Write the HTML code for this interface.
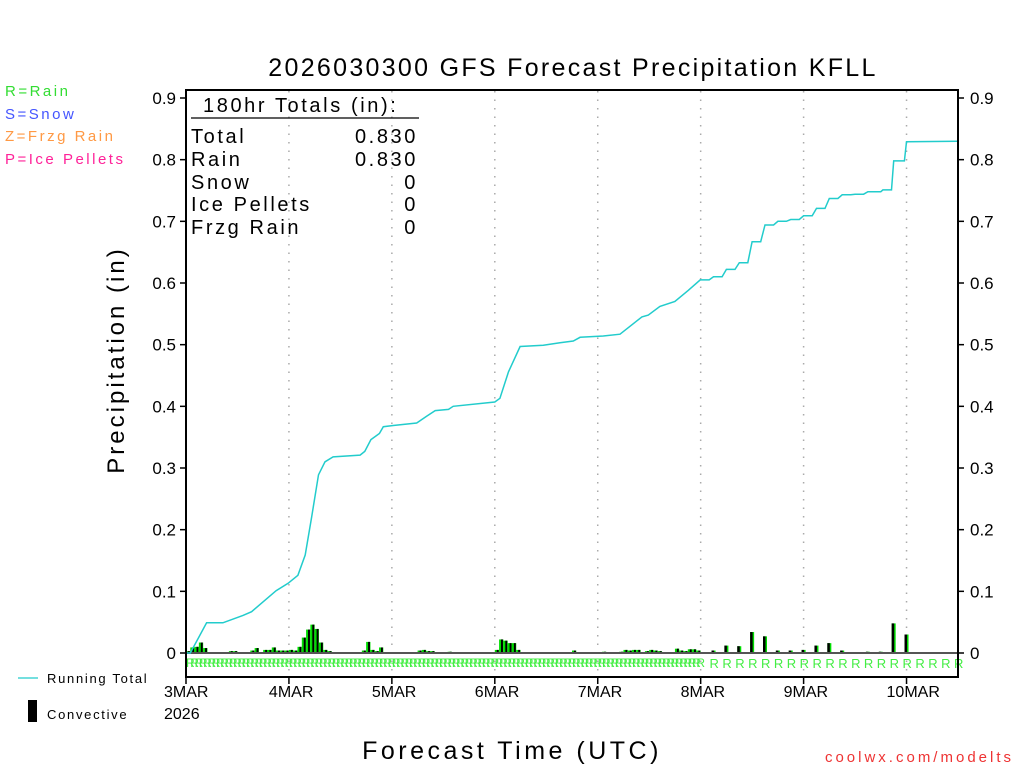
<!DOCTYPE html>
<html><head><meta charset="utf-8"><style>
body{margin:0;background:#fff;}
svg{display:block;font-family:"Liberation Sans",sans-serif;}
</style></head><body>
<svg id="chart" width="1024" height="768" viewBox="0 0 1024 768" xmlns="http://www.w3.org/2000/svg">
<rect width="1024" height="768" fill="#fff"/>
<text x="573" y="76" font-size="25" text-anchor="middle" letter-spacing="2.3">2026030300 GFS Forecast Precipitation KFLL</text>
<g font-size="15" letter-spacing="2.5">
<text x="5" y="96" fill="#33dd33">R=Rain</text>
<text x="5" y="119" fill="#4455ff">S=Snow</text>
<text x="5" y="141" fill="#ff9944">Z=Frzg Rain</text>
<text x="5" y="164" fill="#ff2299">P=Ice Pellets</text>
</g>
<g id="grid"></g>
<g id="bars"></g>
<g id="rmarks"></g>
<line x1="186" y1="653" x2="958" y2="653" stroke="#555" stroke-width="2"/>
<polyline id="total" fill="none" stroke="#22cccc" stroke-width="1.5"/>
<rect x="186" y="90" width="772" height="587" fill="none" stroke="#000" stroke-width="2"/>
<g id="yaxis" font-size="17"></g>
<g id="xaxis" font-size="16"></g>
<text x="124" y="360" font-size="24" letter-spacing="3" text-anchor="middle" transform="rotate(-90 124 360)">Precipitation (in)</text>
<text x="512" y="759" font-size="25" letter-spacing="3.5" text-anchor="middle">Forecast Time (UTC)</text>
<text x="1014" y="762" font-size="15" fill="#ee3333" text-anchor="end" letter-spacing="3">coolwx.com/modelts</text>
<g font-size="20" letter-spacing="2.6">
<text x="203" y="112">180hr Totals (in):</text>
<line x1="191" y1="118" x2="419" y2="118" stroke="#000" stroke-width="1.2"/>
<text x="191" y="143">Total</text><text x="418" y="143" text-anchor="end">0.830</text>
<text x="191" y="166">Rain</text><text x="418" y="166" text-anchor="end">0.830</text>
<text x="191" y="189">Snow</text><text x="418" y="189" text-anchor="end">0</text>
<text x="191" y="211">Ice Pellets</text><text x="418" y="211" text-anchor="end">0</text>
<text x="191" y="234">Frzg Rain</text><text x="418" y="234" text-anchor="end">0</text>
</g>
<g font-size="13" letter-spacing="1.7">
<line x1="18" y1="678" x2="38" y2="678" stroke="#22cccc" stroke-width="1.2"/>
<text x="47" y="683">Running Total</text>
<rect x="28" y="700" width="9" height="22" fill="#000"/>
<text x="47" y="719">Convective</text>
</g>
</svg>
<script>
const hourlyPrecip = [0,0.003,0.009,0.01,0.017,0.008,0.001,0,0,0,0.001,0.003,0.003,0.001,0.001,0.001,0.004,0.008,0.001,0.005,0.005,0.009,0.004,0.004,0.004,0.005,0.004,0.01,0.025,0.038,0.046,0.039,0.017,0.005,0.003,0,0,0.001,0.001,0,0,0,0.004,0.018,0.005,0.003,0.009,0,0,0.001,0.001,0,0,0,0.001,0.004,0.005,0.003,0.003,0,0,0,0.002,0,0,0,0,0,0.001,0.001,0.001,0,0.001,0.005,0.022,0.02,0.016,0.016,0.005,0.001,0.001,0,0,0,0,0.001,0,0,0.001,0,0,0.004,0.001,0,0,0,0.001,0.001,0.002,0.001,0.001,0.001,0.002,0.005,0.004,0.005,0.005,0.001,0.003,0.005,0.004,0.003,0.001,0.001,0.001,0.007,0.004,0.003,0.006,0.006,0.004];
const threeHourHours = [123,126,129,132,135,138,141,144,147,150,153,156,159,162,165,168,171,174,177,180];
const threeHourPrecip = [0.004,0.012,0.011,0.034,0.027,0.004,0.004,0.005,0.012,0.016,0.004,0.001,0.002,0.002,0.048,0.030,0.001,0.001,0,0.001];
const totalHours = [0,1,4.8,8.6,13.3,15.3,17.3,21,23.8,26.1,27.8,29.3,30.9,32.4,34.3,40.6,41.7,43.1,45.1,46,48.3,53.8,56.1,58.1,61.2,62.3,72,73.2,75.2,77.9,83.3,87.2,90.3,91.9,97.3,101.2,106.3,107.8,110.5,114,117.1,119.9,122,123,125,126,128,129,131,132,134,135,137,138,140,141,143,144,146,147,149,150,152,153,155,156,158,159,162,162.5,164.5,165,167.5,168,180];
const totalValues = [0,0,0.049,0.049,0.061,0.067,0.079,0.101,0.113,0.126,0.159,0.221,0.289,0.310,0.318,0.321,0.327,0.346,0.356,0.367,0.369,0.373,0.384,0.393,0.395,0.400,0.407,0.413,0.456,0.497,0.499,0.503,0.506,0.512,0.514,0.517,0.545,0.548,0.562,0.570,0.588,0.605,0.605,0.610,0.610,0.622,0.622,0.633,0.633,0.667,0.667,0.694,0.694,0.700,0.700,0.703,0.703,0.709,0.709,0.721,0.721,0.737,0.737,0.743,0.743,0.744,0.744,0.748,0.748,0.751,0.751,0.798,0.798,0.829,0.830];
const yTicks = [0,0.1,0.2,0.3,0.4,0.5,0.6,0.7,0.8,0.9];
const yTickLabels = ["0","0.1","0.2","0.3","0.4","0.5","0.6","0.7","0.8","0.9"];
const dayLabels = ["3MAR","4MAR","5MAR","6MAR","7MAR","8MAR","9MAR","10MAR"];

const NS="http://www.w3.org/2000/svg";
const X0=186,X1=958,Y0=653,YTOP=98;
const xs=h=>X0+h*(X1-X0)/180;
const ys=v=>Y0-v*(Y0-YTOP)/0.9;
function mk(tag,parent,attrs){const e=document.createElementNS(NS,tag);for(const k in attrs)e.setAttribute(k,attrs[k]);parent.appendChild(e);return e;}
const grid=document.getElementById('grid'),bars=document.getElementById('bars'),rm=document.getElementById('rmarks'),ya=document.getElementById('yaxis'),xa=document.getElementById('xaxis');
dayLabels.forEach((d,i)=>{
  const x=xs(i*24);
  if(i>0){const g=mk('line',grid,{x1:x,y1:91,x2:x,y2:676,stroke:'#aaa','stroke-width':1.5,'stroke-dasharray':'1.5 7'});
  
  }
  const t=mk('line',xa,{x1:x,y1:677,x2:x,y2:684,stroke:'#000','stroke-width':1.5});
  
  
  const l=mk('text',xa,{x:i==0?x-22:x-20,y:697});l.textContent=d;
  
  
});
const yr=mk('text',xa,{x:164,y:719});yr.textContent='2026';


yTicks.forEach((v,i)=>{
  const y=ys(v);
  const a=mk('line',ya,{x1:180,y1:y,x2:186,y2:y,stroke:'#000','stroke-width':1.5});
  
  
  const b=mk('line',ya,{x1:958,y1:y,x2:964,y2:y,stroke:'#000','stroke-width':1.5});
  
  
  const t1=mk('text',ya,{x:176,y:y+6,'text-anchor':'end'});t1.textContent=yTickLabels[i];
  
  
  const t2=mk('text',ya,{x:970,y:y+6});t2.textContent=yTickLabels[i];
  
  
});
const hw=(X1-X0)/180;
hourlyPrecip.forEach((v,h)=>{
  if(h==0)return;
  const xl=xs(h-1),y=ys(v),hgt=Y0-y;
  if(v>0){
    const g=mk('rect',bars,{x:xl,y:y,width:hw,height:hgt,fill:'#00dd00'});
    
    
    const b=mk('rect',bars,{x:xl+hw*0.45,y:y,width:hw*0.45,height:hgt,fill:'#000'});
    
    
  }
  const r=mk('text',rm,{x:xl,y:667,'font-size':12,fill:'#44ee44'});r.textContent='R';
  
  
});
threeHourHours.forEach((h,i)=>{
  const v=threeHourPrecip[i],x=xs(h),y=ys(v),hgt=Y0-y;
  if(v>0){
    const g=mk('rect',bars,{x:x-2,y:y,width:4,height:hgt,fill:'#00dd00'});
    
    
    const b=mk('rect',bars,{x:x-2,y:y,width:2.5,height:hgt,fill:'#000'});
    
    
  }
  const r=mk('text',rm,{x:x-4,y:668,'font-size':13,fill:'#44ee44'});r.textContent='R';
  
  
});
document.getElementById('total').setAttribute('points',totalHours.map((h,i)=>xs(h).toFixed(1)+','+ys(totalValues[i]).toFixed(1)).join(' '));
</script>
</body></html>
